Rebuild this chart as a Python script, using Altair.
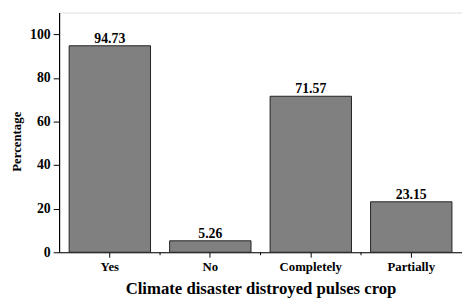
import altair as alt
import pandas as pd

categories = ["Yes", "No", "Completely", "Partially"]
values = [94.73, 5.26, 71.57, 23.15]
minor_tick_cats = ["No", "Completely", "Partially"]

df = pd.DataFrame({"cat": categories, "val": values})
df["label"] = [f"{v:.2f}" for v in values]
ticks_df = pd.DataFrame({"cat": minor_tick_cats})

FONT = "Liberation Serif"
W, H = 410, 244
PI = 0.19
STEP = W / 4

x_enc = alt.X(
    "cat:N",
    sort=categories,
    scale=alt.Scale(paddingInner=PI, paddingOuter=0.1),
    axis=alt.Axis(
        title="Climate disaster distroyed pulses crop",
        labelAngle=0,
        labelFont=FONT, labelFontWeight="bold", labelFontSize=13, labelColor="black",
        labelPadding=4,
        titleFont=FONT, titleFontWeight="bold", titleFontSize=17, titleColor="black",
        titlePadding=7,
        domainColor="black", tickColor="black", tickSize=5, domainWidth=1.2,
    ),
)

bars = alt.Chart(df).mark_bar(color="#808080", stroke="#222222", strokeWidth=1).encode(
    x=x_enc,
    y=alt.Y(
        "val:Q",
        scale=alt.Scale(domain=[0, 110], nice=False),
        axis=alt.Axis(
            title="Percentage",
            values=[0, 10, 20, 30, 40, 50, 60, 70, 80, 90, 100, 110],
            labelExpr="datum.value % 20 === 0 && datum.value <= 100 ? datum.label : ''",
            tickSize={"expr": "datum.value % 20 === 0 ? 6 : 3"},
            grid=False,
            labelFont=FONT, labelFontWeight="bold", labelFontSize=14, labelColor="black",
            labelPadding=3,
            titleFont=FONT, titleFontWeight="bold", titleFontSize=13, titleColor="black",
            titlePadding=6,
            titleY=131,
            domainColor="black", tickColor="black", domainWidth=1.2,
        ),
    ),
)

text = alt.Chart(df).mark_text(
    dy=-7, font=FONT, fontWeight="bold", fontSize=14, color="black"
).encode(
    x=alt.X("cat:N", sort=categories),
    y=alt.Y("val:Q"),
    text="label:N",
)

minor = alt.Chart(ticks_df).mark_rule(color="black", strokeWidth=1).encode(
    x=alt.X("cat:N", sort=categories, bandPosition=0),
    xOffset=alt.value(-STEP * PI / 2),
    y=alt.value(H),
    y2=alt.value(H + 3),
)

chart = (
    alt.layer(bars, text, minor)
    .properties(
        width=W,
        height=H,
        autosize=alt.AutoSizeParams(type="none"),
        padding={"left": 52, "top": 2, "right": 0, "bottom": 46},
    )
    .configure_view(stroke=None)
    .configure(background="white")
)

chart.save("out.html", embed_options={"renderer": "svg", "actions": False})
